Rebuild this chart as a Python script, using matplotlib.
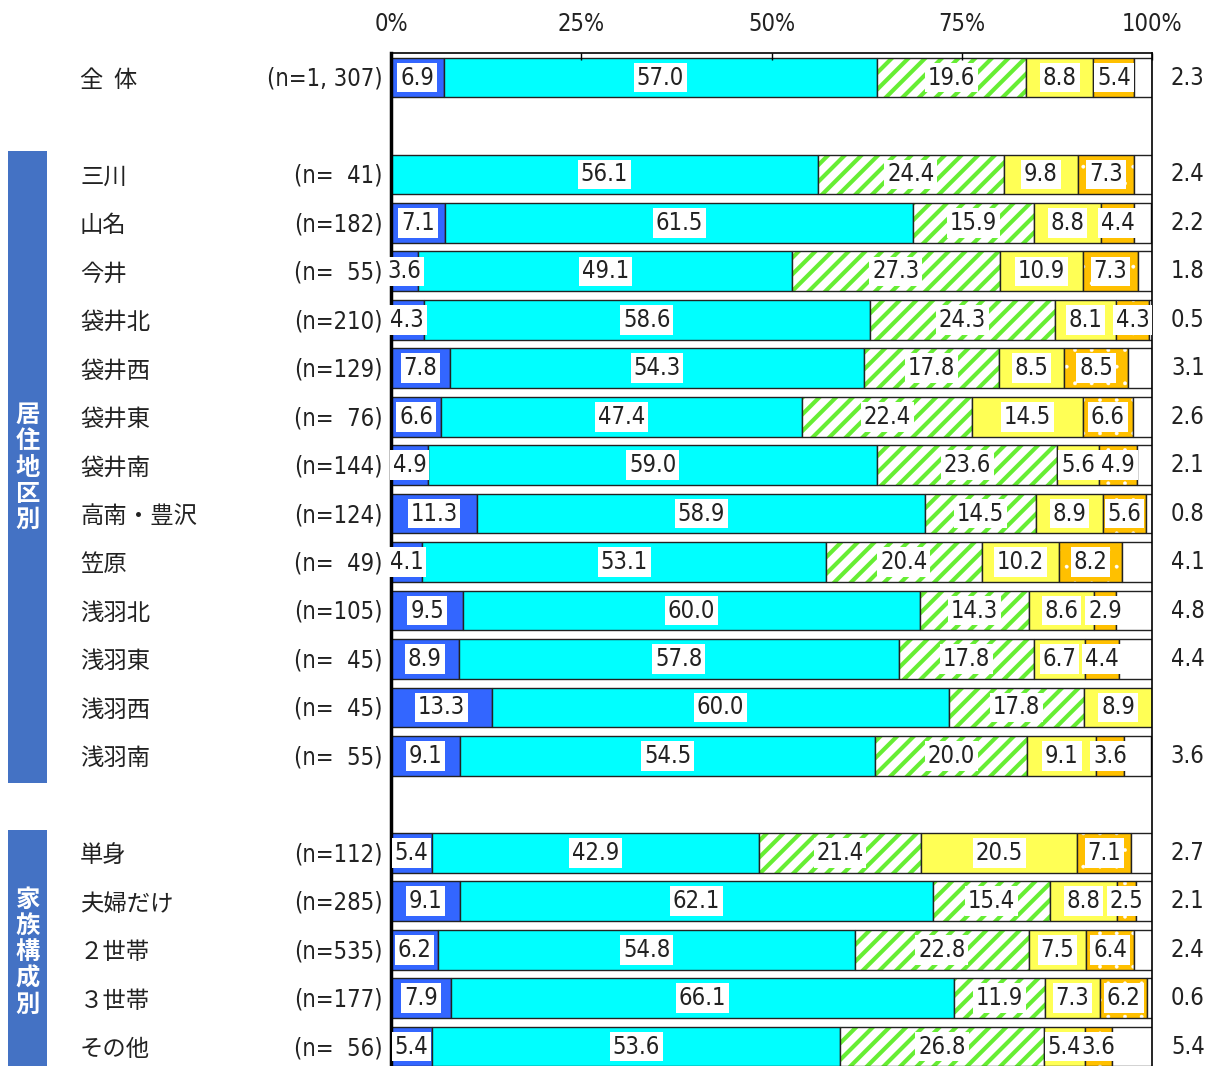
import matplotlib
matplotlib.use("Agg")
import matplotlib.pyplot as plt
import matplotlib.transforms as mtrans
from matplotlib import font_manager
from matplotlib.patches import Rectangle

# ---- data ----
groups = ['全  体', '', '三川', '山名', '今井', '袋井北', '袋井西', '袋井東', '袋井南', '高南・豊沢',
          '笠原', '浅羽北', '浅羽東', '浅羽西', '浅羽南', '', '単身', '夫婦だけ', '２世帯', '３世帯', 'その他']
n_labels = ['(n=1, 307)', '', '(n=  41)', '(n=182)', '(n=  55)', '(n=210)', '(n=129)', '(n=  76)',
            '(n=144)', '(n=124)', '(n=  49)', '(n=105)', '(n=  45)', '(n=  45)', '(n=  55)', '',
            '(n=112)', '(n=285)', '(n=535)', '(n=177)', '(n=  56)']
s1 = [6.9, 0, 0, 7.1, 3.6, 4.3, 7.8, 6.6, 4.9, 11.3, 4.1, 9.5, 8.9, 13.3, 9.1, 0, 5.4, 9.1, 6.2, 7.9, 5.4]
s2 = [57.0, 0, 56.1, 61.5, 49.1, 58.6, 54.3, 47.4, 59.0, 58.9, 53.1, 60.0, 57.8, 60.0, 54.5, 0, 42.9, 62.1, 54.8, 66.1, 53.6]
s3 = [19.6, 0, 24.4, 15.9, 27.3, 24.3, 17.8, 22.4, 23.6, 14.5, 20.4, 14.3, 17.8, 17.8, 20.0, 0, 21.4, 15.4, 22.8, 11.9, 26.8]
s4 = [8.8, 0, 9.8, 8.8, 10.9, 8.1, 8.5, 14.5, 5.6, 8.9, 10.2, 8.6, 6.7, 8.9, 9.1, 0, 20.5, 8.8, 7.5, 7.3, 5.4]
s5 = [5.4, 0, 7.3, 4.4, 7.3, 4.3, 8.5, 6.6, 4.9, 5.6, 8.2, 2.9, 4.4, 0, 3.6, 0, 7.1, 2.5, 6.4, 6.2, 3.6]
s6 = [2.3, 0, 2.4, 2.2, 1.8, 0.5, 3.1, 2.6, 2.1, 0.8, 4.1, 4.8, 4.4, 0, 3.6, 0, 2.7, 2.1, 2.4, 0.6, 5.4]
ticks = [0, 25, 50, 75, 100]
side_groups = [('居\n住\n地\n区\n別', 2, 14), ('家\n族\n構\n成\n別', 16, 20)]

# pick a narrow face for the numbers if there is one
fl = font_manager.fontManager.ttflist
if any(f.name == 'Liberation Sans Narrow' for f in fl):
    NUM = dict(family='Liberation Sans Narrow', fontsize=18.5)
elif any(f.name == 'DejaVu Sans' and f.stretch == 'condensed' for f in fl):
    NUM = dict(family='DejaVu Sans', fontstretch='condensed', fontsize=17)
else:
    NUM = dict(family='Roboto', fontsize=17)
jp_font = ['Noto Sans CJK JP', 'DejaVu Sans']

fig = plt.figure(figsize=(12.08, 10.66), dpi=100)
ax = fig.add_axes([391 / 1208, 0, 761 / 1208, (1066 - 53) / 1066])
ax.set_xlim(0, 100)
ax.set_ylim(20.4, -0.506)

rows = list(range(len(groups)))
h = 0.82
series = [s1, s2, s3, s4, s5, s6]
styles = [
    dict(color='#3366FF'),
    dict(color='#00FFFF'),
    dict(color='white', edgecolor='#66EE33', hatch='//', linewidth=0, hlw=3.0),
    dict(color='#FFFF55'),
    dict(color='#FFC000', edgecolor='white', hatch='.', linewidth=0, hlw=0.3),
    dict(color='white'),
]
left = [0.0] * len(rows)
for k, (vals, st) in enumerate(zip(series, styles)):
    r_ok = [r for r in rows if vals[r] > 0]
    v = [vals[r] for r in r_ok]
    l = [left[r] for r in r_ok]
    if 'hatch' in st:
        st = dict(st)
        with plt.rc_context({'hatch.linewidth': st.pop('hlw')}):
            ax.barh(r_ok, v, left=l, height=h, **st)
        ax.barh(r_ok, v, left=l, height=h, facecolor='none', edgecolor='#222222', linewidth=1.0)
    else:
        ax.barh(r_ok, v, left=l, height=h, facecolor=st['color'], edgecolor='#222222', linewidth=1.0)
    for r in r_ok:
        if k < 5:
            ax.text(left[r] + vals[r] / 2, r, f'{vals[r]:.1f}', ha='center', va='center',
                    color='#222222', bbox=dict(boxstyle='square,pad=0.12', fc='white', ec='none'), **NUM)
        else:
            ax.text(104.7, r, f'{vals[r]:.1f}', ha='center', va='center',
                    color='#222222', clip_on=False, **NUM)
        left[r] += vals[r]

# axes styling
ax.xaxis.tick_top()
ax.set_xticks(ticks)
ax.set_xticklabels([f'{t}%' for t in ticks], color='#222222', **NUM)
ax.tick_params(axis='x', direction='in', length=5, width=1, pad=12)
ax.set_yticks([])
ax.spines['bottom'].set_visible(False)
ax.spines['left'].set_linewidth(2.5)
ax.spines['top'].set_linewidth(1.2)
ax.spines['right'].set_linewidth(1.2)

# row labels
tr = mtrans.blended_transform_factory(fig.transFigure, ax.transData)
for r in rows:
    if groups[r]:
        fig.text(80 / 1208, r + 0.06, groups[r], transform=tr, ha='left', va='center', fontsize=16.8,
                 family=jp_font, color='#222222')
        fig.text(383 / 1208, r + 0.03, n_labels[r], transform=tr, ha='right', va='center',
                 color='#222222', **NUM)

# side group boxes
for txt, r0, r1 in side_groups:
    y0 = r0 - 0.475
    y1 = min(r1 + 0.56, 20.4)
    fig.add_artist(Rectangle((8 / 1208, y0), 39 / 1208, y1 - y0, transform=tr,
                             facecolor='#4472C4', edgecolor='none', zorder=1))
    fig.text(27.5 / 1208, (r0 + r1) / 2 + 0.05, txt, transform=tr, ha='center', va='center',
             fontsize=17.5, family=jp_font, color='white', fontweight='bold', linespacing=1.12,
             zorder=5)

fig.savefig('out.png', dpi=100)
